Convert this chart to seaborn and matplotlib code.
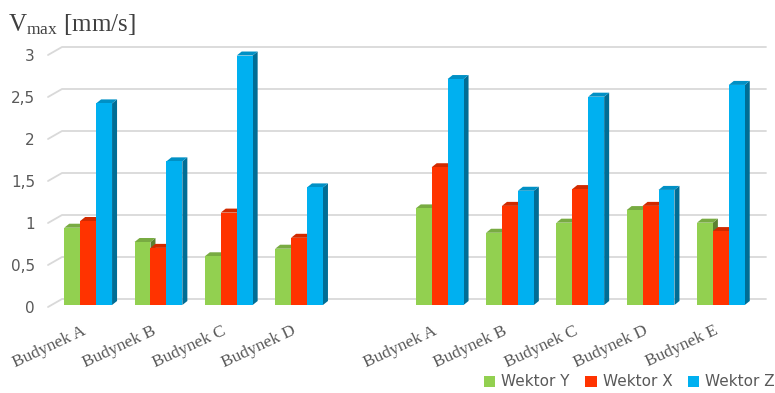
import numpy as np
import pandas as pd
import matplotlib
matplotlib.use("Agg")
import matplotlib.pyplot as plt
import seaborn as sns
from matplotlib.patches import Polygon, Patch
from matplotlib.lines import Line2D
from matplotlib.transforms import IdentityTransform, ScaledTranslation
from matplotlib.colors import to_rgb

# ---- data -------------------------------------------------------------
group1 = ["Budynek A", "Budynek B", "Budynek C", "Budynek D"]
group2 = ["Budynek A", "Budynek B", "Budynek C", "Budynek D", "Budynek E"]

series = ["Wektor Y", "Wektor X", "Wektor Z"]
colors = ["#92D050", "#FF3300", "#00B0F0"]

g1_y = [0.92, 0.75, 0.58, 0.67]
g1_x = [1.00, 0.68, 1.10, 0.80]
g1_z = [2.40, 1.71, 2.97, 1.40]

g2_y = [1.15, 0.86, 0.98, 1.13, 0.98]
g2_x = [1.64, 1.18, 1.38, 1.18, 0.88]
g2_z = [2.69, 1.36, 2.48, 1.37, 2.62]

y_ticks = [0, 0.5, 1, 1.5, 2, 2.5, 3]
y_tick_labels = ["0", "0,5", "1", "1,5", "2", "2,5", "3"]

# ---- long table: two building groups with an empty slot between ----
slots1 = [f"1 {n}" for n in group1]
slots2 = [f"2 {n}" for n in group2]
gap_slot = "gap"
order = slots1 + [gap_slot] + slots2
tick_labels = group1 + [""] + group2

rows = []
for s, vals in zip(series, [g1_y, g1_x, g1_z]):
    rows += [(slot, s, v) for slot, v in zip(slots1, vals)]
for s, vals in zip(series, [g2_y, g2_x, g2_z]):
    rows += [(slot, s, v) for slot, v in zip(slots2, vals)]
df = pd.DataFrame(rows, columns=["slot", "series", "value"])

# ---- figure -----------------------------------------------------------
sns.set_theme(style="white")
plt.rcParams["mathtext.fontset"] = "custom"
plt.rcParams["mathtext.rm"] = "Liberation Serif"
plt.rcParams["mathtext.it"] = "Liberation Serif:italic"

W, H = 775, 393
fig = plt.figure(figsize=(W / 100, H / 100), dpi=100)
left, right, zero_px, top_px = 53, 756, 305, 53
ax = fig.add_axes([left / W, 1 - zero_px / H, (right - left) / W, (zero_px - top_px) / H])

sns.barplot(data=df, x="slot", y="value", hue="series", order=order,
            hue_order=series, palette=colors, width=0.68, gap=0,
            saturation=1, legend=False, errorbar=None, ax=ax, zorder=3)

ax.set_xlim(-0.5, len(order) - 0.5)
ax.set_ylim(0, 3)
for sp in ax.spines.values():
    sp.set_visible(False)
ax.set_xlabel("")
ax.set_ylabel("")

# y axis labels
ax.set_yticks(y_ticks)
ax.set_yticklabels(y_tick_labels, fontsize=11, color="#595959", family="DejaVu Sans")
ax.tick_params(axis="y", length=0, pad=13)
for t in ax.get_yticklabels():
    t.set_transform(t.get_transform() + ScaledTranslation(0, -2 / 100, fig.dpi_scale_trans))

# x axis labels, rotated serif text
ax.set_xticks(range(len(order)))
ax.set_xticklabels(tick_labels, fontsize=12.5, color="#595959", family="Liberation Serif")
ax.tick_params(axis="x", length=0, pad=13)
for t in ax.get_xticklabels():
    t.set_rotation(25)
    t.set_ha("right")
    t.set_va("top")
    t.set_rotation_mode("anchor")
    t.set_transform(t.get_transform() + ScaledTranslation(-7 / 100, 0, fig.dpi_scale_trans))

fig.canvas.draw()
to_px = ax.transData.transform
ident = IdentityTransform()

# back-wall gridlines with the slanted floor segment on the left
grid_c = "#D9D9D9"
for v in y_ticks:
    x0, yv = to_px((-0.5, v))
    x1, _ = to_px((len(order) - 0.5, v))
    pts = np.array([[x0 - 5, yv - 2], [x0 + 9, yv + 6], [x1 + 10, yv + 6]])
    ax.add_line(Line2D(pts[:, 0], pts[:, 1], transform=ident, color=grid_c,
                       lw=1.3, zorder=1, clip_on=False))

# depth faces for each column
dx, dy = 5, 4
for p in list(ax.patches):
    h = p.get_height()
    if not np.isfinite(h) or h <= 0:
        continue
    base = np.array(to_rgb(p.get_facecolor()))
    xa, yb = to_px((p.get_x(), 0))
    xb, yt = to_px((p.get_x() + p.get_width(), h))
    side = [[xb, yb], [xb, yt], [xb + dx, yt + dy], [xb + dx, yb + dy]]
    top = [[xa, yt], [xb, yt], [xb + dx, yt + dy], [xa + dx, yt + dy]]
    ax.add_patch(Polygon(side, closed=True, transform=ident, facecolor=base * 0.62,
                         edgecolor="none", zorder=2.9, clip_on=False))
    ax.add_patch(Polygon(top, closed=True, transform=ident, facecolor=base * 0.82,
                         edgecolor="none", zorder=2.9, clip_on=False))
    p.set_edgecolor("none")

# axis title
fig.text(8 / W, 1 - 31 / H, r"V$_{\rm max}$ [mm/s]", fontsize=18,
         family="Liberation Serif", color="#404040", va="baseline", ha="left")

# legend
handles = [Patch(facecolor=c, edgecolor="none") for c in colors]
leg = fig.legend(handles, series, loc="center right",
                 bbox_to_anchor=(775 / W, 1 - 382 / H), ncol=3, frameon=False,
                 handlelength=0.75, handleheight=0.75, handletextpad=0.4,
                 columnspacing=1.0, borderaxespad=0, borderpad=0,
                 prop={"family": "DejaVu Sans", "size": 11})
for t in leg.get_texts():
    t.set_color("#595959")

fig.savefig("out.png", dpi=100)
